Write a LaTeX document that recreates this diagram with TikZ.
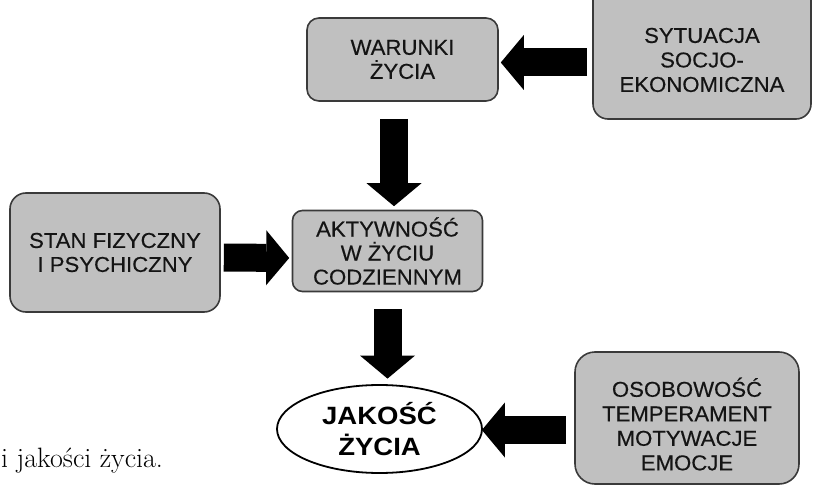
\documentclass[tikz,border=0pt]{standalone}
\usepackage{fontspec}
\usetikzlibrary{arrows.meta,shapes.geometric}
\newfontfamily\boxfont[FakeStretch=1.03,FakeBold=0.35]{Liberation Sans}
\newfontfamily\ovalfont[FakeStretch=1.1]{Liberation Sans}
\definecolor{boxfill}{RGB}{192,192,192}
\definecolor{boxline}{RGB}{58,58,58}
\definecolor{ink}{RGB}{20,20,20}
\tikzset{
  box/.style={draw=boxline, fill=boxfill, line width=1.6pt, rounded corners=#1,
    inner sep=0pt, align=center, text=ink,
    font=\boxfont\fontsize{21.5}{24}\selectfont},
  box/.default=12pt,
  boxtext/.style={inner sep=0pt, align=center, text=ink,
    font=\boxfont\fontsize{21.5}{24.5}\selectfont},
  oval/.style={ellipse, draw=black, line width=1.8pt, fill=white, inner sep=0pt,
    align=center, text=black, font=\ovalfont\bfseries\fontsize{25}{31}\selectfont},
  blk/.style={draw=black, line width=28pt,
    -{Triangle[length=23pt, width=55pt, line width=0pt]}}
}
\begin{document}
\begin{tikzpicture}[x=1pt,y=-1pt]
\useasboundingbox (0,0) rectangle (813,486);
\clip (0,0) rectangle (813,486);

% boxes
\node[box=12pt, minimum width=191pt, minimum height=83pt] (war) at (402.5,59.5)
  {WARUNKI\\ŻYCIA};
\node[box=15pt, minimum width=218pt, minimum height=139pt] (syt) at (702,49.5) {};
\node[boxtext] (sytt) at (702,60) {SYTUACJA\\SOCJO-\\EKONOMICZNA};
\node[box=16pt, minimum width=210pt, minimum height=119pt] (stan) at (115,252.5)
  {STAN FIZYCZNY\\I PSYCHICZNY};
\node[box=10pt, minimum width=190pt, minimum height=81pt] (akt) at (387.5,251)
  {AKTYWNOŚĆ\\W ŻYCIU\\CODZIENNYM};
\node[oval, minimum width=205pt, minimum height=88pt] (jak) at (379.5,429)
  {JAKOŚĆ\\ŻYCIA};
\node[box=20pt, minimum width=224pt, minimum height=132pt] (osob) at (687,418) {};
\node[boxtext] (osobt) at (687,424) {OSOBOWOŚĆ\\TEMPERAMENT\\MOTYWACJE\\EMOCJE};

% block arrows
\draw[blk, shorten <=5pt, shorten >=2pt] ([yshift=-3pt]war.east -| syt.west) -- ([yshift=-3pt]war.east);
\draw[blk, shorten <=17pt, shorten >=3.5pt] ([xshift=-8.5pt]war.south) -- ([xshift=6.5pt]akt.north);
\draw[blk, shorten <=3pt, shorten >=2.5pt] ([yshift=-5pt]stan.east) -- ([yshift=-7pt]akt.west);
\draw[blk, shorten <=17pt, shorten >=5.5pt] ([xshift=0pt]akt.south) -- ([xshift=8pt]jak.north);
\draw[blk, shorten <=8pt, shorten >=-1pt] ([yshift=-1pt]jak.east -| osob.west) -- ([yshift=-1pt]jak.east);

% caption fragment
\node[anchor=base west, inner sep=0pt, font=\fontsize{28}{34}\selectfont] (cap) at (1,467)
  {i jakości życia.};
\end{tikzpicture}
\end{document}
